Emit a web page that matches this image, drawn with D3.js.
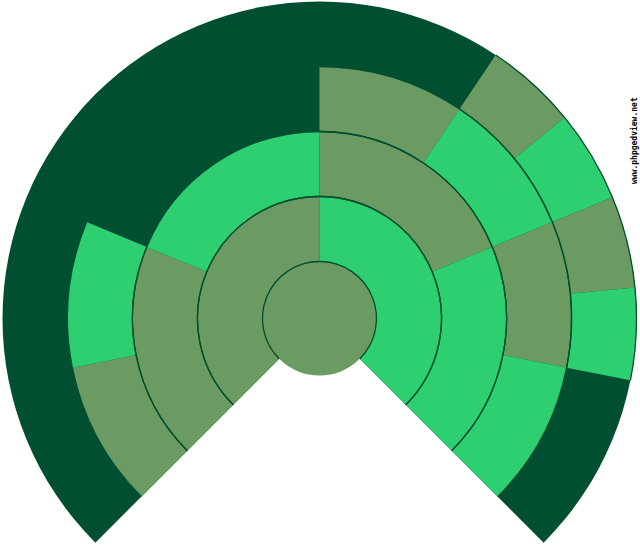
<!DOCTYPE html>
<html lang="en">
<head>
  <meta charset="UTF-8">
  <title>Fan chart</title>
  <script src="https://cdn.jsdelivr.net/npm/d3@7"></script>
  <style>
    body { margin: 0; background: #fff; }
  </style>
</head>
<body>

  <svg id="svg" width="640" height="550"></svg>

  <script>
    // Ancestors: each box is split in two, first child = father, second = mother
    const ids     = ["self", "f", "m", "ff", "fm", "mf", "mm", "fff", "ffm", "mff", "mfm", "mmf", "mmm", "mfmf", "mfmm", "mmff", "mmfm"]
    const parents = ["", "self", "self", "f", "f", "m", "m", "ff", "ff", "mf", "mf", "mm", "mm", "mfm", "mfm", "mmf", "mmf"]
    const sexes   = ["M", "M", "F", "M", "F", "M", "F", "M", "F", "M", "F", "M", "F", "M", "F", "M", "F"]
    // share of the fan for boxes with no known parents (in 16ths)
    const leafShare = [0, 0, 0, 0, 4, 0, 0, 2, 2, 2, 0, 0, 2, 1, 1, 1, 1]

    const rows = ids.map((id, i) => ({ id, parent: parents[i], sex: sexes[i], value: leafShare[i] }))

    const cx = 319.5, cy = 318.5
    const colors = { M: "#6b9b62", F: "#2ecf71", bg: "#004f30" }
    const span = Math.PI * 1.5

    const root = d3.stratify()
      .id(d => d.id)
      .parentId(d => d.parent || null)(rows)
      .sum(d => d.value)

    d3.partition().size([span, 5])(root)

    // radius per generation
    const rscale = d3.scaleLinear().domain([1, 5]).range([57, 317])
    const rad = y => y === 0 ? 0 : rscale(y)

    const svg = d3.select("#svg")
    const g = svg.append("g").attr("transform", `translate(${cx},${cy})`)

    // dark backdrop for the whole fan
    g.append("path")
      .attr("d", d3.arc()({ innerRadius: 0, outerRadius: rscale(5), startAngle: -span / 2, endAngle: span / 2 }))
      .attr("fill", colors.bg)

    // centre person is a full disc
    g.append("circle")
      .attr("r", rscale(1))
      .attr("fill", colors[root.data.sex])

    const arc = d3.arc()
      .startAngle(d => d.x0 - span / 2)
      .endAngle(d => d.x1 - span / 2)
      .innerRadius(d => rad(d.y0))
      .outerRadius(d => rad(d.y1))

    const boxes = root.descendants().filter(d => d.depth > 0)

    g.selectAll("path.box")
      .data(boxes)
      .enter()
      .append("path")
      .attr("class", "box")
      .attr("d", arc)
      .attr("fill", d => colors[d.data.sex])

    // thin lines only along the curved edges
    const edge = (r, a0, a1) => {
      const p = d3.path()
      p.arc(0, 0, r, a0 - Math.PI / 2, a1 - Math.PI / 2)
      return p.toString()
    }
    boxes.forEach(d => {
      [rad(d.y0), rad(d.y1)].forEach(r => {
        g.append("path")
          .attr("d", edge(r, d.x0 - span / 2, d.x1 - span / 2))
          .attr("fill", "none")
          .attr("stroke", colors.bg)
          .attr("stroke-width", 1.3)
      })
    })

    svg.append("text")
      .attr("transform", "translate(637,184) rotate(-90)")
      .attr("font-family", "DejaVu Sans Mono")
      .attr("font-size", 8)
      .attr("font-weight", "bold")
      .attr("fill", "#000")
      .text("www.phpgedview.net")
  </script>
</body>
</html>
